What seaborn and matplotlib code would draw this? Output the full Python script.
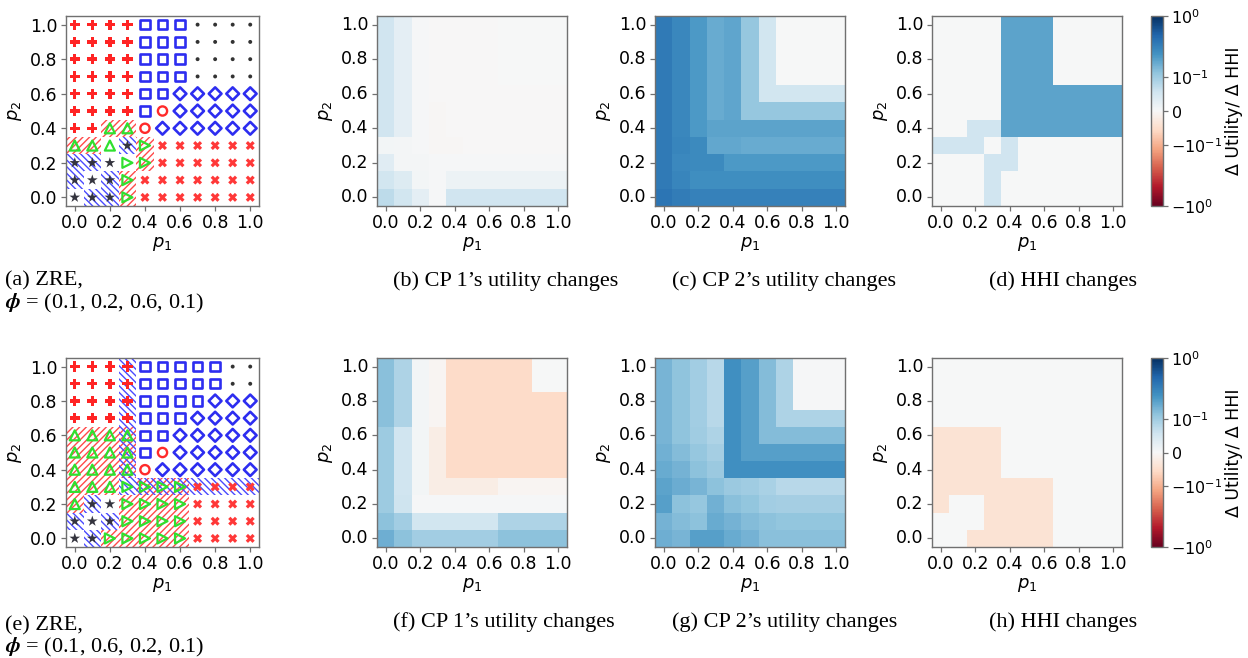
import numpy as np
import pandas as pd
import matplotlib
matplotlib.use("Agg")
import matplotlib.pyplot as plt
import seaborn as sns
from matplotlib.colors import SymLogNorm
from matplotlib.patches import Rectangle
from matplotlib.font_manager import FontProperties
from matplotlib.mathtext import MathTextParser

plt.rcParams['font.family'] = ['DejaVu Sans']
plt.rcParams['mathtext.fontset'] = 'dejavusans'
plt.rcParams['hatch.linewidth'] = 1.0

# ---------------- data ----------------
p_values = [0.0, 0.1, 0.2, 0.3, 0.4, 0.5, 0.6, 0.7, 0.8, 0.9, 1.0]
p_labels = ['0.0', '0.1', '0.2', '0.3', '0.4', '0.5', '0.6', '0.7', '0.8', '0.9', '1.0']
tick_values = [0.0, 0.2, 0.4, 0.6, 0.8, 1.0]
tick_labels = ['0.0', '0.2', '0.4', '0.6', '0.8', '1.0']

# equilibrium type per grid point, rows from p2=1.0 (top) to p2=0.0, columns p1=0.0..1.0
zre_a_types = [
    "PPPPSSS....",
    "PPPPSSS....",
    "PPPPSSS....",
    "PPPPSSS....",
    "PPPPSSDDDDD",
    "PPPPSODDDDD",
    "PP^^ODDDDDD",
    "^^^*>XXXXXX",
    "***>>XXXXXX",
    "***>XXXXXXX",
    "***>XXXXXXX",
]
zre_a_hatch = [
    "...........",
    "...........",
    "...........",
    "...........",
    "...........",
    "...........",
    "..rr.......",
    "rr.br......",
    "bb..r......",
    "b.br.......",
    ".bbr.......",
]
zre_e_types = [
    "PPPPSSSSS..",
    "PPPPSSSSS..",
    "PPPPSSSSDDD",
    "PPPPSSSDDDD",
    "^^^^SSDDDDD",
    "^^^^SODDDDD",
    "^^^^ODDDDDD",
    "^^^>>>>XXXX",
    "^**>>>>XXXX",
    "***>>>>XXXX",
    "**>>>>>XXXX",
]
zre_e_hatch = [
    "...b.......",
    "...b.......",
    "...b.......",
    "...b.......",
    "rrrx.......",
    "rrrx.......",
    "rrrx.......",
    "rrrbxxxbbbb",
    "rb.rrrr....",
    "b.brrrr....",
    ".brrrrr....",
]

# utility / HHI changes, rows from p2=1.0 (top) to p2=0.0
cp1_b = [
    [.055, .028, .004, -.002, -.002, -.002, -.002, 0, 0, 0, 0],
    [.055, .028, .004, -.002, -.002, -.002, -.002, 0, 0, 0, 0],
    [.055, .028, .004, -.002, -.002, -.002, -.002, 0, 0, 0, 0],
    [.055, .028, .004, -.002, -.002, -.002, -.002, 0, 0, 0, 0],
    [.055, .028, .004, -.002, -.002, -.002, -.002, -.002, -.002, -.002, -.002],
    [.055, .028, .004, -.004, -.002, -.002, -.002, -.002, -.002, -.002, -.002],
    [.055, .028, .004, -.004, -.002, -.002, -.002, -.002, -.002, -.002, -.002],
    [.008, .006, .004, -.004, -.004, -.001, -.001, -.001, -.001, -.001, -.001],
    [.034, .006, .005, .003, .003, .003, .003, .003, .003, .003, .003],
    [.053, .039, .008, .004, .017, .017, .017, .017, .017, .017, .017],
    [.073, .053, .028, .004, .055, .055, .055, .055, .055, .055, .055],
]
cp2_c = [
    [.35, .285, .22, .17, .185, .11, .053, 0, 0, 0, 0],
    [.35, .285, .22, .17, .185, .11, .053, 0, 0, 0, 0],
    [.35, .285, .22, .17, .185, .11, .053, 0, 0, 0, 0],
    [.35, .285, .22, .17, .185, .11, .053, 0, 0, 0, 0],
    [.35, .285, .22, .17, .185, .11, .053, .053, .053, .053, .053],
    [.35, .285, .22, .17, .185, .11, .11, .11, .11, .11, .11],
    [.35, .285, .22, .19, .19, .19, .19, .19, .19, .19, .19],
    [.35, .30, .27, .18, .18, .17, .17, .17, .17, .17, .17],
    [.35, .28, .27, .27, .22, .22, .22, .22, .22, .22, .22],
    [.35, .30, .26, .26, .26, .26, .26, .26, .26, .26, .26],
    [.38, .34, .31, .31, .31, .31, .31, .31, .31, .31, .31],
]
hhi_d = [
    [0, 0, 0, 0, .19, .19, .19, 0, 0, 0, 0],
    [0, 0, 0, 0, .19, .19, .19, 0, 0, 0, 0],
    [0, 0, 0, 0, .19, .19, .19, 0, 0, 0, 0],
    [0, 0, 0, 0, .19, .19, .19, 0, 0, 0, 0],
    [0, 0, 0, 0, .19, .19, .19, .19, .19, .19, .19],
    [0, 0, 0, 0, .19, .19, .19, .19, .19, .19, .19],
    [0, 0, .056, .056, .19, .19, .19, .19, .19, .19, .19],
    [.056, .056, .056, 0, .056, 0, 0, 0, 0, 0, 0],
    [0, 0, 0, .056, .056, 0, 0, 0, 0, 0, 0],
    [0, 0, 0, .056, 0, 0, 0, 0, 0, 0, 0],
    [0, 0, 0, .056, 0, 0, 0, 0, 0, 0, 0],
]
cp1_f = [
    [.125, .087, .008, -.005, -.053, -.053, -.053, -.053, -.053, 0, 0],
    [.125, .087, .008, -.005, -.053, -.053, -.053, -.053, -.053, 0, 0],
    [.125, .087, .008, -.005, -.053, -.053, -.053, -.053, -.053, -.053, -.053],
    [.125, .087, .008, -.005, -.053, -.053, -.053, -.053, -.053, -.053, -.053],
    [.103, .055, .008, -.02, -.053, -.053, -.053, -.053, -.053, -.053, -.053],
    [.103, .055, .008, -.02, -.053, -.053, -.053, -.053, -.053, -.053, -.053],
    [.103, .055, .008, -.02, -.053, -.053, -.053, -.053, -.053, -.053, -.053],
    [.103, .055, .008, -.02, -.02, -.02, -.02, -.006, -.006, -.006, -.006],
    [.103, .058, .004, .004, .004, .004, .004, .004, .004, .004, .004],
    [.12, .098, .053, .053, .053, .053, .053, .087, .087, .087, .087],
    [.16, .12, .098, .098, .098, .098, .098, .12, .12, .12, .12],
]
cp2_g = [
    [.146, .117, .098, .078, .25, .2, .13, .087, .003, .003, .003],
    [.146, .117, .098, .078, .25, .2, .13, .087, .003, .003, .003],
    [.146, .117, .098, .078, .25, .2, .13, .087, .003, .003, .003],
    [.146, .117, .098, .078, .25, .2, .13, .087, .087, .087, .087],
    [.146, .117, .10, .087, .25, .2, .13, .13, .13, .13, .13],
    [.155, .13, .11, .095, .25, .2, .2, .2, .2, .2, .2],
    [.17, .15, .12, .105, .25, .25, .25, .25, .25, .25, .25],
    [.19, .165, .146, .12, .105, .10, .09, .078, .078, .078, .078],
    [.20, .12, .112, .155, .125, .115, .098, .095, .095, .095, .095],
    [.15, .13, .12, .17, .15, .13, .12, .115, .115, .115, .115],
    [.16, .146, .20, .20, .17, .15, .125, .125, .125, .125, .125],
]
hhi_h = [
    [0, 0, 0, 0, 0, 0, 0, 0, 0, 0, 0],
    [0, 0, 0, 0, 0, 0, 0, 0, 0, 0, 0],
    [0, 0, 0, 0, 0, 0, 0, 0, 0, 0, 0],
    [0, 0, 0, 0, 0, 0, 0, 0, 0, 0, 0],
    [-.04, -.04, -.04, -.04, 0, 0, 0, 0, 0, 0, 0],
    [-.04, -.04, -.04, -.04, 0, 0, 0, 0, 0, 0, 0],
    [-.04, -.04, -.04, -.04, 0, 0, 0, 0, 0, 0, 0],
    [-.04, -.04, -.04, -.04, -.04, -.04, -.04, 0, 0, 0, 0],
    [-.04, 0, 0, -.04, -.04, -.04, -.04, 0, 0, 0, 0],
    [0, 0, 0, -.04, -.04, -.04, -.04, 0, 0, 0, 0],
    [0, 0, -.04, -.04, -.04, -.04, -.04, 0, 0, 0, 0],
]

captions_row1 = ["(b) CP 1\u2019s utility changes", "(c) CP 2\u2019s utility changes", "(d) HHI changes"]
captions_row2 = ["(f) CP 1\u2019s utility changes", "(g) CP 2\u2019s utility changes", "(h) HHI changes"]
phi_a = "(0.1, 0.2, 0.6, 0.1)"
phi_e = "(0.1, 0.6, 0.2, 0.1)"
cbar_label = "\u0394 Utility/ \u0394 HHI"

# ---------------- styling ----------------
SPINE = '#707070'
TICKFS = 12.5
LABELFS = 13
marker_style = {
    'P': dict(marker='P', s=54, color='#ff2424', edgecolor='none', linewidth=0),
    'S': dict(marker='s', s=46, facecolor='none', edgecolor='#2d2df0', linewidth=1.9),
    '.': dict(marker='o', s=8, color='#333333', edgecolor='none', linewidth=0),
    'D': dict(marker='D', s=42, facecolor='none', edgecolor='#2d2df0', linewidth=1.9),
    'O': dict(marker='o', s=44, facecolor='none', edgecolor='#ff2a2a', linewidth=1.7),
    '^': dict(marker='^', s=52, facecolor='none', edgecolor='#2fe02f', linewidth=1.6),
    '>': dict(marker='>', s=52, facecolor='none', edgecolor='#2fe02f', linewidth=1.6),
    '*': dict(marker='*', s=66, color='#34343e', edgecolor='none', linewidth=0),
    'X': dict(marker='X', s=42, color='#ff3838', edgecolor='none', linewidth=0),
}
hatch_colors = {'r': ['#ff4a4a'], 'b': ['#4a4aff'], 'x': ['#ff4a4a', '#4a4aff']}
hatch_pattern = {'#ff4a4a': '/////', '#4a4aff': '\\\\\\\\\\'}

norm = SymLogNorm(linthresh=0.1, linscale=0.5, vmin=-1, vmax=1, base=10)

W, H = 1248, 658
fig = plt.figure(figsize=(W / 100, H / 100), dpi=100)


def box(x0, y0, x1, y1):
    return [x0 / W, 1 - y1 / H, (x1 - x0) / W, (y1 - y0) / H]


def style_axes(ax):
    for sp in ax.spines.values():
        sp.set_visible(True)
        sp.set_color(SPINE)
        sp.set_linewidth(1.0)
    ax.tick_params(axis='both', which='both', bottom=True, left=True, top=False, right=False,
                   length=3.5, width=0.9, color=SPINE, labelsize=TICKFS, labelcolor='black', pad=2.5)
    ax.set_xlabel('$p_1$', fontsize=LABELFS, labelpad=2)
    ax.set_ylabel('$p_2$', fontsize=LABELFS, labelpad=4)


def draw_zre(ax, types, hatches):
    n = len(p_values)
    recs = []
    for r in range(n):
        p2 = p_values[n - 1 - r]
        for c in range(n):
            recs.append((p_values[c], p2, types[r][c], hatches[r][c]))
    df = pd.DataFrame(recs, columns=['p1', 'p2', 'kind', 'hatch'])
    half = (p_values[1] - p_values[0]) / 2
    for _, row in df[df['hatch'] != '.'].iterrows():
        for col in hatch_colors[row['hatch']]:
            ax.add_patch(Rectangle((row['p1'] - half, row['p2'] - half), 2 * half, 2 * half,
                                   fill=False, edgecolor=col, linewidth=0,
                                   hatch=hatch_pattern[col], zorder=1))
    for kind, st in marker_style.items():
        sub = df[df['kind'] == kind]
        if len(sub) == 0:
            continue
        sns.scatterplot(x=sub['p1'].to_numpy(), y=sub['p2'].to_numpy(), ax=ax,
                        legend=False, zorder=3, **st)
    ax.set_xlim(p_values[0] - half, p_values[-1] + half)
    ax.set_ylim(p_values[0] - half, p_values[-1] + half)
    ax.set_xticks(tick_values)
    ax.set_xticklabels(tick_labels)
    ax.set_yticks(tick_values)
    ax.set_yticklabels(tick_labels)
    style_axes(ax)


def draw_heat(ax, vals):
    df = pd.DataFrame(vals, index=p_labels[::-1], columns=p_labels)
    sns.heatmap(df, ax=ax, cmap='RdBu', norm=norm, cbar=False)
    centers = np.arange(len(p_labels)) + 0.5
    ax.set_xticks(centers[::2])
    ax.set_xticklabels(tick_labels, rotation=0)
    ax.set_yticks(centers[::2])
    ax.set_yticklabels(tick_labels[::-1], rotation=0)
    style_axes(ax)
    return ax.collections[0]


rows = [
    dict(top=16, bot=206, zre=(zre_a_types, zre_a_hatch), heats=[cp1_b, cp2_c, hhi_d],
         caps=captions_row1, cap_y=281, zre_y=281, zre_letter='(a)', phi=phi_a, phi_y=303),
    dict(top=358, bot=547, zre=(zre_e_types, zre_e_hatch), heats=[cp1_f, cp2_g, hhi_h],
         caps=captions_row2, cap_y=622, zre_y=626, zre_letter='(e)', phi=phi_e, phi_y=647),
]
heat_lefts = [377, 655, 932]
cap_lefts = [393, 672, 989]
SERIF = 'Liberation Serif'
CAPFS = 16


def phi_text(tuple_str):
    cands = [r'$\boldsymbol{\phi}$', r'$\mathbf{\phi}$', r'$\phi$']
    parser = MathTextParser('path')
    for c in cands:
        try:
            parser.parse(c, prop=FontProperties(math_fontfamily='stix'))
            return c + ' = ' + tuple_str
        except Exception:
            continue
    return '\u03d5 = ' + tuple_str


for rw in rows:
    ax = fig.add_axes(box(66, rw['top'], 259, rw['bot']))
    draw_zre(ax, *rw['zre'])
    mesh = None
    for left, vals in zip(heat_lefts, rw['heats']):
        axh = fig.add_axes(box(left, rw['top'], left + 190, rw['bot']))
        mesh = draw_heat(axh, vals)
    cax = fig.add_axes(box(1151, rw['top'], 1163, rw['bot']))
    cb = fig.colorbar(mesh, cax=cax)
    cb.outline.set_edgecolor(SPINE)
    cb.outline.set_linewidth(1.0)
    cb.ax.tick_params(labelsize=11.5, length=3.5, width=0.9, color=SPINE, labelcolor='black', pad=2)
    cb.ax.minorticks_off()
    cb.set_label(cbar_label, fontsize=12.5, labelpad=2)
    # captions
    fig.text(5 / W, 1 - rw['zre_y'] / H, rw['zre_letter'] + ' ZRE,', fontfamily=SERIF,
             fontsize=CAPFS, va='center', ha='left')
    fig.text(5 / W, 1 - rw['phi_y'] / H, phi_text(rw['phi']), fontfamily=SERIF,
             fontsize=CAPFS, va='center', ha='left', math_fontfamily='stix')
    for cx, cap in zip(cap_lefts, rw['caps']):
        fig.text(cx / W, 1 - rw['cap_y'] / H, cap, fontfamily=SERIF, fontsize=CAPFS,
                 va='center', ha='left')

fig.savefig('out.png', dpi=100)
